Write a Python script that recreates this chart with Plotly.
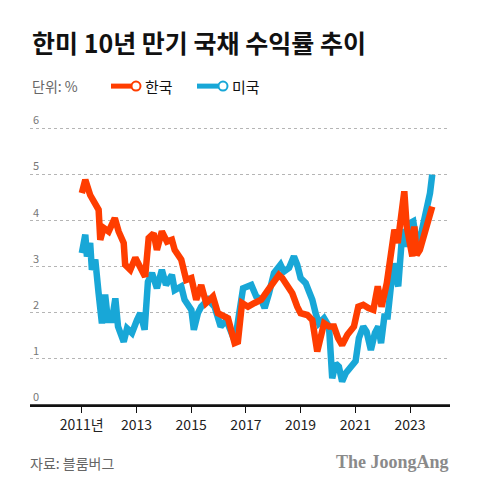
import plotly.graph_objects as go

# ---- data ----
kr_dates = ["2011-01-03","2011-02-18","2011-04-24","2011-07-01","2011-08-15","2011-09-06","2011-10-20","2011-12-27",
            "2012-03-18","2012-05-08","2012-07-15","2012-08-03","2012-10-11","2012-12-17","2013-02-21","2013-04-27",
            "2013-06-13","2013-08-18","2013-10-01","2013-12-06","2014-02-12","2014-04-19","2014-05-26","2014-08-22",
            "2014-10-27","2015-01-04","2015-03-10","2015-05-15","2015-07-20","2015-10-19","2015-12-24","2016-02-28",
            "2016-05-07","2016-08-03","2016-09-16","2016-11-10","2017-01-29","2017-04-27","2017-07-24","2017-10-22",
            "2018-01-11","2018-03-17","2018-05-01","2018-07-05","2018-09-12","2018-11-17","2019-01-01","2019-04-01",
            "2019-06-06","2019-08-11","2019-09-27","2019-11-10","2020-01-15","2020-03-21","2020-05-15","2020-07-08",
            "2020-09-16","2020-12-13","2021-02-09","2021-04-16","2021-06-24","2021-08-29","2021-10-27","2021-12-17",
            "2022-02-24","2022-04-09","2022-06-06","2022-07-20","2022-09-12","2022-10-16","2022-11-17","2023-01-01",
            "2023-01-31","2023-02-27","2023-03-29","2023-05-12","2023-06-27","2023-08-11","2023-09-24","2023-10-24"]
kr_values = [4.59,4.88,4.55,4.34,4.23,3.58,3.84,3.76,
             4.05,3.76,3.51,3.04,2.93,3.19,3.00,2.78,
             3.62,3.72,3.36,3.76,3.54,3.58,3.36,3.15,
             2.71,2.75,2.28,2.60,2.21,2.35,1.99,1.92,
             1.88,1.34,1.37,2.21,2.13,2.21,2.28,2.49,
             2.71,2.82,2.75,2.57,2.42,2.13,1.99,1.95,
             1.84,1.16,1.48,1.77,1.70,1.70,1.45,1.30,
             1.52,1.70,2.13,2.17,2.10,2.06,2.57,2.13,
             2.64,3.22,3.80,3.51,4.23,4.63,3.87,3.51,
             3.22,3.87,3.25,3.36,3.65,3.87,4.16,4.30]

us_dates = ["2011-01-03","2011-02-18","2011-03-12","2011-04-24","2011-05-17","2011-07-01","2011-08-15","2011-09-28",
            "2011-11-10","2011-12-17","2012-02-09","2012-03-25","2012-04-30","2012-07-15","2012-08-28","2012-11-02",
            "2013-01-08","2013-02-21","2013-04-20","2013-06-03","2013-07-27","2013-10-01","2013-12-06","2014-01-30",
            "2014-04-19","2014-05-26","2014-08-22","2014-10-05","2015-01-04","2015-02-06","2015-04-01","2015-05-15",
            "2015-08-14","2015-11-10","2016-01-30","2016-04-15","2016-07-12","2016-08-24","2016-11-24","2017-01-07",
            "2017-03-14","2017-05-19","2017-07-24","2017-09-08","2017-10-22","2017-11-05","2018-01-11","2018-04-08",
            "2018-05-22","2018-07-30","2018-10-04","2018-11-17","2019-01-01","2019-03-10","2019-04-23","2019-06-06",
            "2019-07-20","2019-09-02","2019-11-10","2020-01-15","2020-02-27","2020-04-12","2020-05-26","2020-07-08",
            "2020-08-25","2020-10-30","2021-01-04","2021-02-17","2021-04-16","2021-05-30","2021-07-27","2021-09-19",
            "2021-11-03","2021-12-10","2022-01-23","2022-03-08","2022-04-09","2022-05-23","2022-07-06","2022-07-27",
            "2022-09-12","2022-10-26","2022-11-17","2023-01-01","2023-02-13","2023-03-29","2023-05-12","2023-06-27",
            "2023-08-11","2023-09-24","2023-10-24"]
us_values = [3.29,3.69,3.22,3.51,2.93,3.15,2.42,1.77,
             2.39,1.84,1.84,2.31,1.70,1.37,1.66,1.56,
             1.84,1.99,1.63,2.67,2.86,2.53,2.93,2.60,
             2.82,2.49,2.57,2.28,2.06,1.63,1.99,2.13,
             2.28,2.13,1.70,1.84,1.48,1.56,2.53,2.57,
             2.60,2.35,2.28,2.10,2.28,2.42,2.86,3.04,
             2.89,2.97,3.22,3.04,2.75,2.64,2.46,2.28,
             1.99,1.77,1.88,1.70,0.58,0.90,0.83,0.51,
             0.69,0.83,0.95,1.45,1.70,1.59,1.19,1.56,
             1.70,1.34,1.92,1.92,2.49,3.07,2.71,2.57,
             3.58,3.80,3.43,3.94,3.98,3.54,3.58,3.94,
             4.23,4.59,4.99]

x_tick_vals = ["2011-01-01","2013-01-01","2015-01-01","2017-01-01","2019-01-01","2021-01-01","2023-01-01"]
x_tick_text = ["2011년","2013","2015","2017","2019","2021","2023"]
y_tick_vals = [0, 1, 2, 3, 4, 5, 6]

KR_COLOR = "#ff3d00"
US_COLOR = "#18a7d7"
FONT = "Noto Sans CJK KR"

# page offset (body margin) compensation
OFF = 8
W, H = 480, 492
Y_TOP = 6.5
UNIT_PX = 46.17
TOP_PAGE = 405 - Y_TOP * UNIT_PX
L, R, T, B = 30 - OFF, 30 + OFF, TOP_PAGE - OFF, 87 + OFF
PW, PH = W - L - R, H - T - B

def px(xpage):
    return (xpage - OFF - L) / PW

def py(ypage):
    return (H - B - (ypage - OFF)) / PH

fig = go.Figure()
fig.add_trace(go.Scatter(x=us_dates, y=us_values, mode="lines", name="미국",
                         line=dict(color=US_COLOR, width=6.5), hoverinfo="skip"))
fig.add_trace(go.Scatter(x=kr_dates, y=kr_values, mode="lines", name="한국",
                         line=dict(color=KR_COLOR, width=6.5), hoverinfo="skip"))

fig.update_layout(
    width=W, height=H,
    margin=dict(l=L, r=R, t=T, b=B),
    paper_bgcolor="white", plot_bgcolor="white",
    showlegend=False,
    font=dict(family=FONT, color="#222"),
    xaxis=dict(
        type="date", range=["2009-02-10", "2024-06-17"],
        tickmode="array", tickvals=x_tick_vals, ticktext=x_tick_text,
        ticks="outside", ticklen=6, tickwidth=1.3, tickcolor="#111",
        showline=True, linecolor="#111", linewidth=1.5,
        showgrid=False, zeroline=False,
        tickfont=dict(family=FONT, size=14, color="#222"),
        fixedrange=True,
    ),
    yaxis=dict(
        range=[0, Y_TOP], tickmode="array", tickvals=y_tick_vals,
        showgrid=True, gridcolor="#b5b5b5", griddash="dot", gridwidth=1,
        zeroline=False, showline=False, ticks="",
        ticklabelposition="inside top",
        tickfont=dict(family=FONT, size=11, color="#777"),
        fixedrange=True,
    ),
)

# baseline at 0
fig.add_shape(type="line", xref="paper", yref="y", x0=0, x1=1, y0=0, y1=0,
              line=dict(color="#111", width=1.5), layer="above")

# Title
fig.add_annotation(xref="paper", yref="paper", x=px(30), y=py(42), xanchor="left", yanchor="middle",
                   text="<b>한미 10년 만기 국채 수익률 추이</b>", showarrow=False,
                   font=dict(family=FONT, size=25, color="#111", weight=900))
# Unit
fig.add_annotation(xref="paper", yref="paper", x=px(30), y=py(86), xanchor="left", yanchor="middle",
                   text="단위: %", showarrow=False, font=dict(family=FONT, size=14, color="#666"))

def legend_item(x0, x1, cx, color, label, tx):
    fig.add_shape(type="line", xref="paper", yref="paper", x0=px(x0), x1=px(x1), y0=py(86), y1=py(86),
                  line=dict(color=color, width=5))
    fig.add_shape(type="circle", xref="paper", yref="paper", x0=px(cx - 4.5), x1=px(cx + 4.5),
                  y0=py(86 + 4.5), y1=py(86 - 4.5), line=dict(color=color, width=2), fillcolor="white")
    fig.add_annotation(xref="paper", yref="paper", x=px(tx), y=py(86), xanchor="left", yanchor="middle",
                       text=label, showarrow=False, font=dict(family=FONT, size=15, color="#111"))

legend_item(111, 133, 136, KR_COLOR, "한국", 143)
legend_item(197, 219, 223, US_COLOR, "미국", 230)

# Footer
fig.add_annotation(xref="paper", yref="paper", x=px(28), y=py(463), xanchor="left", yanchor="middle",
                   text="자료: 블룸버그", showarrow=False, font=dict(family=FONT, size=14, color="#666"))
fig.add_annotation(xref="paper", yref="paper", x=px(451), y=py(462), xanchor="right", yanchor="middle",
                   text="<b>The JoongAng</b>", showarrow=False,
                   font=dict(family="Liberation Serif", size=18, color="#8a8a8a"))

fig.write_html("out.html")
